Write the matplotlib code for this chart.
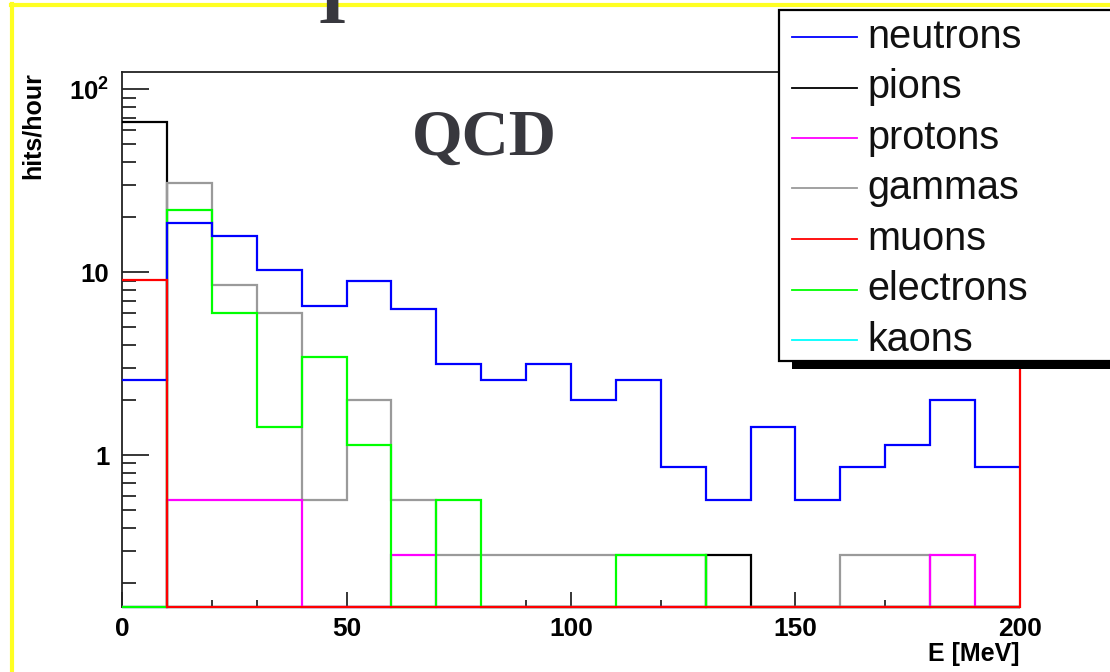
import numpy as np
import matplotlib
matplotlib.use("Agg")
import matplotlib.pyplot as plt
from matplotlib.lines import Line2D
from matplotlib.patches import Rectangle
from matplotlib.ticker import FixedLocator, LogLocator, NullFormatter, FuncFormatter

# ---------------- data ----------------
energy_edges = [0, 10, 20, 30, 40, 50, 60, 70, 80, 90, 100,
                110, 120, 130, 140, 150, 160, 170, 180, 190, 200]

neutrons = [2.57, 18.5, 15.7, 10.3, 6.56, 8.9, 6.27, 3.14, 2.57, 3.14,
            2.0, 2.57, 0.855, 0.57, 1.43, 0.57, 0.855, 1.14, 2.0, 0.855]
pions = [66.0, 0, 0, 0, 0, 0, 0, 0, 0, 0,
         0, 0, 0, 0.285, 0, 0, 0, 0, 0, 0]
protons = [0, 0.57, 0.57, 0.57, 0, 0, 0.285, 0, 0, 0,
           0, 0, 0, 0, 0, 0, 0, 0, 0.285, 0]
gammas = [0, 30.6, 8.5, 6.0, 0.57, 2.0, 0.57, 0.285, 0.285, 0.285,
          0.285, 0.285, 0.285, 0, 0, 0, 0.285, 0.285, 0, 0]
muons = [9.12, 0, 0, 0, 0, 0, 0, 0, 0, 0,
         0, 0, 0, 0, 0, 0, 0, 0, 0, 0]
electrons = [0, 21.9, 6.0, 1.43, 3.42, 1.14, 0, 0.57, 0, 0,
             0, 0.285, 0.285, 0, 0, 0, 0, 0, 0, 0]
kaons = [0, 0, 0, 0, 0, 0, 0, 0, 0, 0,
         0, 0, 0, 0, 0, 0, 0, 0, 0, 0]

legend_names = ["neutrons", "pions", "protons", "gammas", "muons", "electrons", "kaons"]
series = {"neutrons": neutrons, "pions": pions, "protons": protons, "gammas": gammas,
          "muons": muons, "electrons": electrons, "kaons": kaons}
colors = {"neutrons": "#0000ff", "pions": "#000000", "protons": "#ff00ff",
          "gammas": "#9a9a9a", "muons": "#ff0000", "electrons": "#00ff00",
          "kaons": "#00ffff"}
draw_order = ["kaons", "pions", "gammas", "protons", "electrons", "neutrons", "muons"]

y_ticks = [1, 10, 100]
y_labels = {1: "1", 10: "10", 100: r"$\mathbf{10^{2}}$"}
x_ticks = [0, 50, 100, 150, 200]

title_text = "QCD"
x_label = "E [MeV]"
y_label = "hits/hour"

# ---------------- figure ----------------
W, H = 1110, 672
plt.rcParams["font.family"] = ["Liberation Sans", "DejaVu Sans"]
plt.rcParams["mathtext.fontset"] = "custom"
plt.rcParams["mathtext.bf"] = "Liberation Sans:bold"
plt.rcParams["mathtext.rm"] = "Liberation Sans:bold"

fig = plt.figure(figsize=(W / 100, H / 100), dpi=100)
fig.patch.set_facecolor("white")


def fx(x):
    return x / W


def fy(y):
    return 1 - y / H


ax_left, ax_right, ax_top, ax_bottom = 122, 1020, 72, 607
ax = fig.add_axes([fx(ax_left), fy(ax_bottom), fx(ax_right - ax_left), (ax_bottom - ax_top) / H])
ax.set_facecolor("white")

ymin, ymax = 0.1474, 124.5
ax.set_yscale("log")
ax.set_xlim(energy_edges[0], energy_edges[-1])
ax.set_ylim(ymin, ymax)

for name in draw_order:
    vals = np.asarray(series[name], dtype=float)
    shown = np.where(vals > 0, vals, ymin)
    ax.stairs(shown, energy_edges, baseline=None, color=colors[name],
              linewidth=1.6, clip_on=False, zorder=3)

for side in ["left", "bottom", "top", "right"]:
    ax.spines[side].set_linewidth(1.3)
    ax.spines[side].set_color("#222222")
    ax.spines[side].set_zorder(2)

ax.axvline(energy_edges[-1], color=colors["muons"], linewidth=1.6, zorder=4,
           clip_on=False)

# ticks
ax.yaxis.set_major_locator(FixedLocator(y_ticks))
ax.yaxis.set_major_formatter(FuncFormatter(lambda v, p: y_labels.get(int(round(v)), "")))
ax.yaxis.set_minor_locator(LogLocator(base=10, subs=np.arange(2, 10)))
ax.yaxis.set_minor_formatter(NullFormatter())
ax.xaxis.set_major_locator(FixedLocator(x_ticks))
ax.xaxis.set_minor_locator(FixedLocator(energy_edges))

ax.tick_params(axis="y", which="major", direction="in", length=19.5, width=1.1,
               pad=9, labelsize=18.5, right=False)
ax.tick_params(axis="y", which="minor", direction="in", length=10, width=1.1, right=False)
ax.tick_params(axis="x", which="major", direction="in", length=11, width=1.1,
               pad=7, labelsize=19, top=False)
ax.tick_params(axis="x", which="minor", direction="in", length=5, width=1.1, top=False)
for lab in ax.get_xticklabels() + ax.get_yticklabels():
    lab.set_fontweight("bold")

# axis labels
fig.text(fx(1020), fy(654), x_label, ha="right", va="center", fontsize=18,
         fontweight="bold")
fig.text(fx(33), fy(72), y_label, ha="center", va="top", rotation=90,
         fontsize=18, fontweight="bold")

# title
fig.text(fx(484), fy(155), title_text, ha="center", va="baseline",
         fontsize=47, fontweight="bold", family=["Liberation Serif"],
         color="#38383e", zorder=5)

# yellow border
fig.add_artist(Line2D([fx(12), fx(12)], [fy(3.5), fy(H + 5)], color="#ffff22",
                      linewidth=3, transform=fig.transFigure, zorder=1))
fig.add_artist(Line2D([fx(10.5), fx(W + 5)], [fy(5.3), fy(5.3)], color="#ffff22",
                      linewidth=3, transform=fig.transFigure, zorder=1))

# cut-off big character at the top (part of a larger title above the frame)
fig.text(fx(332), fy(23), "I", ha="center", va="baseline", fontsize=54,
         fontweight="bold", family=["Liberation Serif"], color="#38383e", zorder=6)

# legend (ROOT-style box with shadow)
leg_l, leg_t, leg_b = 779, 10, 361
shadow = Rectangle((fx(leg_l + 13), fy(leg_b + 8)), fx(W + 50 - leg_l), (leg_b - leg_t) / H,
                   transform=fig.transFigure, facecolor="black", edgecolor="none", zorder=7)
fig.add_artist(shadow)
box = Rectangle((fx(leg_l), fy(leg_b)), fx(W + 50 - leg_l), (leg_b - leg_t) / H,
                transform=fig.transFigure, facecolor="white", edgecolor="black",
                linewidth=1.6, zorder=8)
fig.add_artist(box)

row0, row_step = 37, 50.5
for i, name in enumerate(legend_names):
    yy = row0 + i * row_step
    fig.add_artist(Line2D([fx(792), fx(857)], [fy(yy), fy(yy)], color=colors[name],
                          linewidth=1.3, transform=fig.transFigure, zorder=9))
    fig.text(fx(867), fy(yy), name, ha="left", va="center", fontsize=28.5,
             color="#111111", zorder=9)

fig.savefig("out.png", dpi=100)
